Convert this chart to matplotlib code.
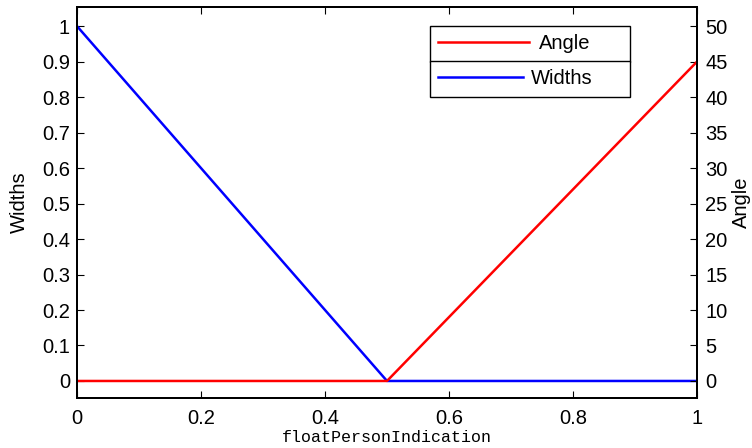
import matplotlib
matplotlib.use('Agg')
import matplotlib.pyplot as plt

plt.rcParams['font.family'] = ['Liberation Sans', 'DejaVu Sans']

# data
x_pts      = [0, 0.5, 1]
widths     = [1, 0, 0]
angle      = [0, 0, 45]
x_ticks    = [0, 0.2, 0.4, 0.6, 0.8, 1]
left_ticks = [0, 0.1, 0.2, 0.3, 0.4, 0.5, 0.6, 0.7, 0.8, 0.9, 1]
right_ticks = [0, 5, 10, 15, 20, 25, 30, 35, 40, 45, 50]

FS = 14.5

fig = plt.figure(figsize=(7.52, 4.48), dpi=100)
ax1 = fig.add_axes([77/752, 50/448, 620/752, 391/448])
ax2 = ax1.twinx()

l_w, = ax1.plot(x_pts, widths, color='#0000ff', lw=1.8, label='Widths')
l_a, = ax2.plot(x_pts, angle, color='#ff0000', lw=1.8, label='Angle')

ax1.set_xlim(0, 1)
ax1.set_ylim(-0.048, 1.054)
ax2.set_ylim(-0.048 * 50, 1.054 * 50)

ax1.set_xticks(x_ticks)
ax1.set_xticklabels(['0', '0.2', '0.4', '0.6', '0.8', '1'])
ax1.set_yticks(left_ticks)
ax1.set_yticklabels(['0', '0.1', '0.2', '0.3', '0.4', '0.5', '0.6', '0.7', '0.8', '0.9', '1'])
ax2.set_yticks(right_ticks)

ax1.tick_params(axis='both', direction='in', length=5, width=0.8, labelsize=FS,
                top=True, right=False, pad=5)
ax1.tick_params(axis='x', pad=8)
ax2.tick_params(axis='y', direction='in', length=5, width=0.8, labelsize=FS, pad=6)

for ax in (ax1, ax2):
    for sp in ax.spines.values():
        sp.set_linewidth(1.4)

ax1.set_ylabel('Widths', fontsize=FS)
ax1.yaxis.set_label_coords(-0.077, 0.5)
ax2.set_ylabel('Angle', fontsize=FS)
ax2.yaxis.set_label_coords(1.056, 0.5)
ax1.set_xlabel('floatPersonIndication', fontsize=12,
               family=['Liberation Mono', 'DejaVu Sans Mono'])
ax1.xaxis.set_label_coords(0.5, -0.082)

# two stacked legend boxes, like plotyy
leg_a = ax2.legend(handles=[l_a], loc='upper left', fontsize=FS,
                   bbox_to_anchor=(430/752, 422/448, 200/752, 0),
                   bbox_transform=fig.transFigure, mode='expand',
                   fancybox=False, framealpha=1, edgecolor='black',
                   borderpad=0.42, handlelength=4.5, handletextpad=0.5,
                   borderaxespad=0)
leg_a.get_frame().set_linewidth(1.0)
leg_w = ax2.legend(handles=[l_w], loc='upper left', fontsize=FS,
                   bbox_to_anchor=(430/752, 387/448, 200/752, 0),
                   bbox_transform=fig.transFigure, mode='expand',
                   fancybox=False, framealpha=1, edgecolor='black',
                   borderpad=0.42, handlelength=4.2, handletextpad=0.4,
                   borderaxespad=0)
leg_w.get_frame().set_linewidth(1.0)
ax2.add_artist(leg_a)

fig.savefig('out.png', dpi=100)
